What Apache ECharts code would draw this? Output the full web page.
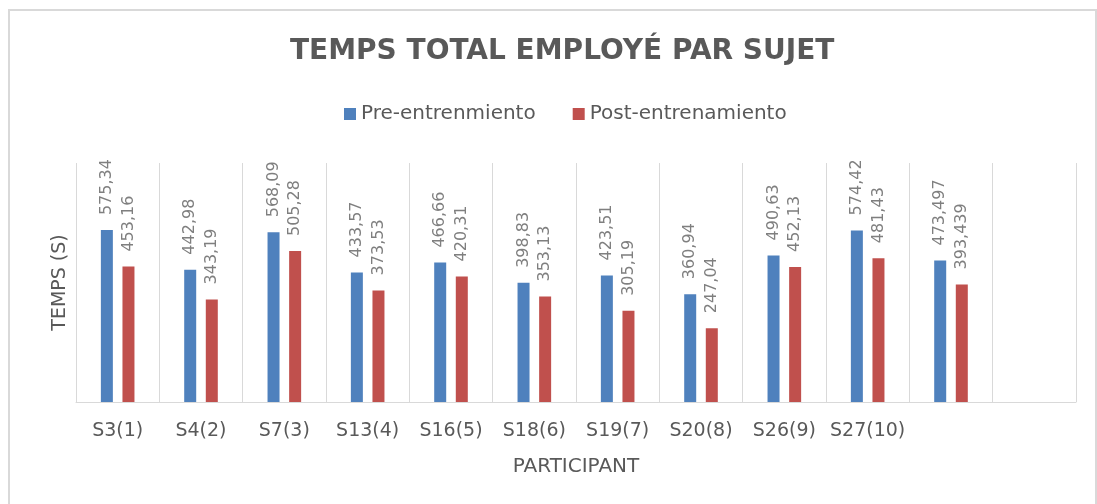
<!DOCTYPE html>
<html>
<head>
<meta charset="utf-8">
<script src="https://cdn.jsdelivr.net/npm/echarts@6/dist/echarts.min.js"></script>
<style>
html, body { margin: 0; padding: 0; background: #fff; }
#container1 { width: 1097px; height: 504px; }
</style>
</head>
<body>
<div id="container1"></div>
<script>
// participants (last two slots have no label in the original)
var participants = ['S3(1)', 'S4(2)', 'S7(3)', 'S13(4)', 'S16(5)', 'S18(6)', 'S19(7)', 'S20(8)', 'S26(9)', 'S27(10)', '', ''];
var preValues = [575.34, 442.98, 568.09, 433.57, 466.66, 398.83, 423.51, 360.94, 490.63, 574.42, 473.497, '-'];
var postValues = [453.16, 343.19, 505.28, 373.53, 420.31, 353.13, 305.19, 247.04, 452.13, 481.43, 393.439, '-'];

window.onload = function () {
	draw();
};

function draw() {
	var dom = document.getElementById("container1");
	var myChart = echarts.init(dom);

	// etiquette verticale au dessus des barres, virgule decimale
	var barLabel = {
		show: true,
		position: 'top',
		rotate: 90,
		align: 'left',
		verticalAlign: 'middle',
		distance: 15,
		color: '#7f7f7f',
		fontFamily: 'DejaVu Sans',
		fontSize: 16,
		formatter: function (p) {
			return String(p.value).replace('.', ',');
		}
	};

	var option = {
		color: ['#4f81bd', '#c0504d'],
		animation: false,
		title: {
			text: 'TEMPS TOTAL EMPLOYÉ PAR SUJET',
			left: 285,
			top: 33,
			textStyle: {
				color: '#595959',
				fontFamily: 'DejaVu Sans',
				fontWeight: 'bold',
				fontSize: 28
			}
		},
		legend: {
			top: 99,
			left: 339,
			itemWidth: 12,
			itemHeight: 12,
			itemGap: 37,
			icon: 'rect',
			data: ['Pre-entrenmiento', 'Post-entrenamiento'],
			textStyle: {
				color: '#595959',
				fontFamily: 'DejaVu Sans',
				fontSize: 20
			}
		},
		grid: {
			left: 76,
			right: 21,
			top: 163,
			bottom: 102
		},
		xAxis: {
			type: 'category',
			data: participants,
			name: 'PARTICIPANT',
			nameLocation: 'middle',
			nameGap: 55,
			nameTextStyle: {
				color: '#595959',
				fontFamily: 'DejaVu Sans',
				fontSize: 20,
				verticalAlign: 'top'
			},
			axisTick: { show: false },
			axisLine: { lineStyle: { color: '#d9d9d9', width: 1 } },
			splitLine: { show: true, lineStyle: { color: '#d9d9d9', width: 1 } },
			axisLabel: {
				interval: 0,
				margin: 20,
				color: '#595959',
				fontFamily: 'DejaVu Sans',
				fontSize: 19
			}
		},
		yAxis: {
			type: 'value',
			min: 0,
			max: 800,
			name: 'TEMPS (S)',
			nameLocation: 'middle',
			nameGap: 6,
			nameTextStyle: {
				color: '#595959',
				fontFamily: 'DejaVu Sans',
				fontSize: 19
			},
			axisLabel: { show: false },
			axisTick: { show: false },
			axisLine: { show: false },
			splitLine: { show: false }
		},
		graphic: [{
			type: 'rect',
			shape: { x: 9, y: 10, width: 1087, height: 520 },
			style: { fill: 'none', stroke: '#d9d9d9', lineWidth: 2 },
			silent: true
		}],
		series: [
			{
				name: 'Pre-entrenmiento',
				type: 'bar',
				data: preValues,
				barWidth: 12,
				barGap: '80%',
				label: barLabel
			},
			{
				name: 'Post-entrenamiento',
				type: 'bar',
				data: postValues,
				barWidth: 12,
				barGap: '80%',
				label: barLabel
			}
		]
	};

	myChart.setOption(option, true);

	window.addEventListener("resize", function () {
		myChart.resize();
	});
}
</script>
</body>
</html>
